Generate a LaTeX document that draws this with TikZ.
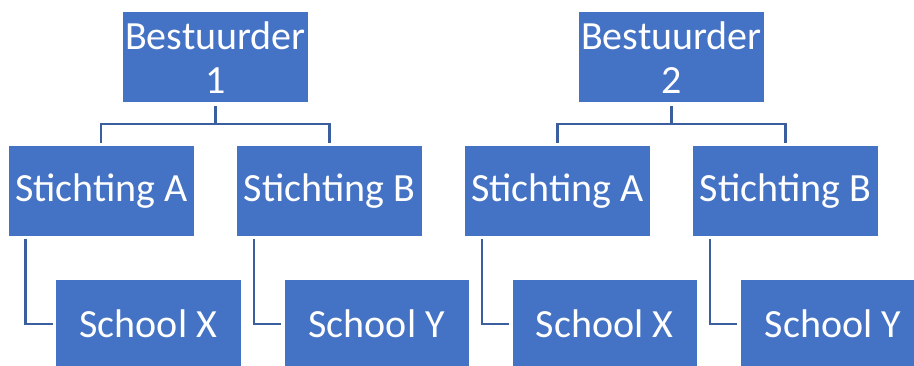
\documentclass[tikz,border=0pt]{standalone}
\usepackage{fontspec}
\setmainfont{Carlito}
\definecolor{boxblue}{HTML}{4472C4}
\definecolor{lineblue}{HTML}{3A5E9E}
\begin{document}
\begin{tikzpicture}[x=1pt,y=-1pt,
  orgbox/.style={rectangle,fill=boxblue,draw=white,line width=0.8pt,
    minimum width=185.6pt,minimum height=91pt,inner sep=0pt,align=center,
    text=white,font=\fontsize{40}{44}\selectfont},
  conn/.style={draw=lineblue,line width=2.2pt,shorten <=2.5pt,shorten >=2.5pt}]
\useasboundingbox (0,0) rectangle (914,365);
\begin{scope}
\clip (0,0) rectangle (914,365);
\node[orgbox] (B1) at (215.5,57.2) {Bestuurder\\1};
\node[orgbox] (B2) at (671.5,57.2) {Bestuurder\\2};
\node[orgbox] (SA1) at (101.3,191) {Stichting A};
\node[orgbox] (SB1) at (329.5,191) {Stichting B};
\node[orgbox] (SA2) at (557.5,191) {Stichting A};
\node[orgbox] (SB2) at (785.5,191) {Stichting B};
\node[orgbox,minimum height=90pt] (SX1) at (148.3,324) {School X};
\node[orgbox,minimum height=90pt] (SY1) at (376.7,324) {School Y};
\node[orgbox,minimum height=90pt] (SX2) at (604.7,324) {School X};
\node[orgbox,minimum height=90pt] (SY2) at (833,324) {School Y};
\end{scope}
\coordinate (M1) at (215.5,124);
\coordinate (M2) at (671.5,124);
\draw[draw=lineblue,line width=2.2pt,shorten <=2.5pt] (B1.south) -- (M1);
\draw[draw=lineblue,line width=2.2pt,shorten <=2.5pt] (B2.south) -- (M2);
\draw[conn] (SA1.north) |- (M1) -| (SB1.north);
\draw[conn] (SA2.north) |- (M2) -| (SB2.north);
\draw[conn] ([xshift=17.4pt]SA1.south west) |- (SX1.west);
\draw[conn] ([xshift=17.4pt]SB1.south west) |- (SY1.west);
\draw[conn] ([xshift=17.4pt]SA2.south west) |- (SX2.west);
\draw[conn] ([xshift=17.4pt]SB2.south west) |- (SY2.west);
\end{tikzpicture}
\end{document}
